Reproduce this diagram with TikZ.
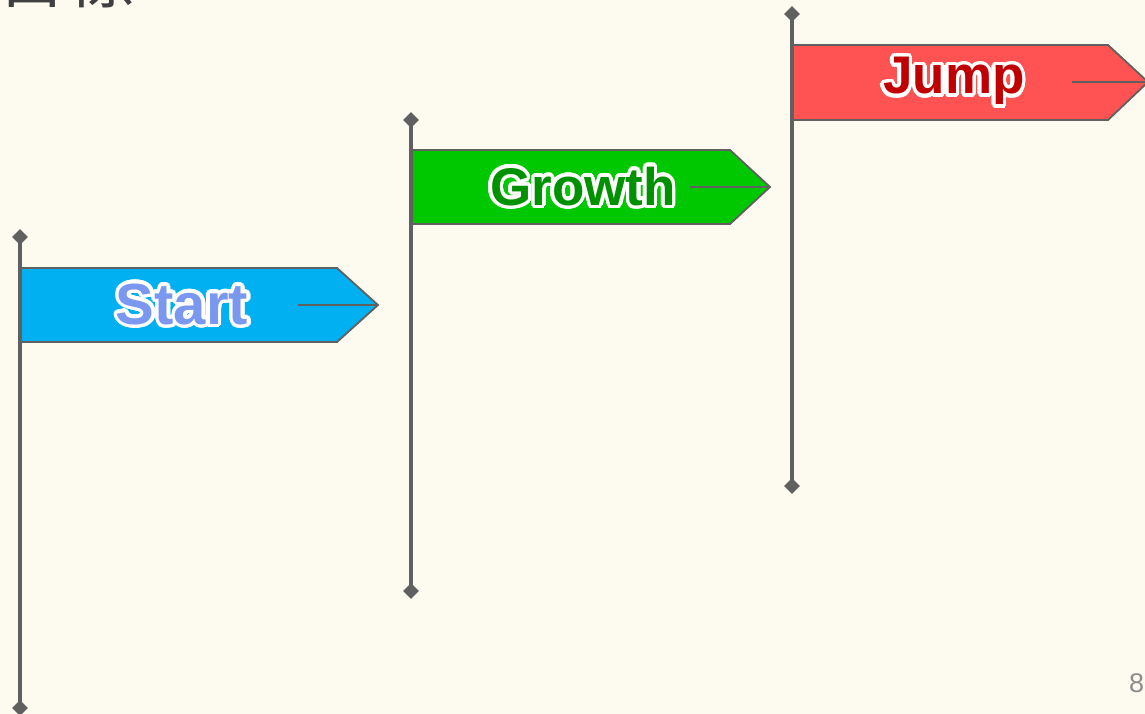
\documentclass[tikz,border=0pt]{standalone}
\usepackage{fontspec}
\setmainfont{Liberation Sans}
\newfontfamily\jpfont{Noto Sans CJK JP}
\usepackage{contour}
\usetikzlibrary{shapes.geometric,positioning}
\definecolor{paper}{RGB}{253,251,239}
\definecolor{polegray}{RGB}{96,96,96}
\definecolor{startfill}{RGB}{0,176,240}
\definecolor{starttext}{RGB}{122,152,240}
\definecolor{growthfill}{RGB}{0,200,0}
\definecolor{growthtext}{RGB}{0,145,0}
\definecolor{jumpfill}{RGB}{255,82,82}
\definecolor{jumptext}{RGB}{192,0,0}
\contourlength{3.5pt}
\contournumber{24}
\tikzset{
  pole/.style={line width=4pt,draw=polegray},
  knob/.style={diamond,fill=polegray,inner sep=0pt,minimum size=16pt},
  flag/.style={draw=polegray,line width=1.8pt,line join=miter},
  mark line/.style={draw=polegray,line width=1.8pt},
  label/.style={inner sep=0pt,font=\bfseries\fontsize{55}{60}\selectfont}
}
\begin{document}
\begin{tikzpicture}[x=1pt,y=-1pt]
\useasboundingbox (0,0) rectangle (1145,714);
\fill[paper] (0,0) rectangle (1145,714);
\clip (0,0) rectangle (1145,714);

\node (title) at (-2,3)[anchor=base west,inner sep=0pt,text=black!75,font=\jpfont\fontsize{68}{70}\selectfont] {目標};
\node (page) at (1129,692)[anchor=base west,inner sep=0pt,text=black!45,font=\fontsize{27}{30}\selectfont] {8};

% Start
\node (P1top) at (20,237)[knob] {};
\node (P1bot) at (20,708)[knob] {};
\coordinate (F1tip) at (378,305);
\coordinate (F1line) at (298,305);
\fill[startfill] (20,268) -- (337,268) -- (F1tip) -- (337,342) -- (20,342) -- cycle;
\draw[flag] (20,268) -- (337,268) -- (F1tip) -- (337,342) -- (20,342);
\draw[mark line] (F1line) -- (F1tip);
\draw[pole] (P1top.center) -- (P1bot.center);
\node (Start) at (182,306)[label,text=starttext,font=\bfseries\fontsize{58}{60}\selectfont] {\contour{white}{Start}};

% Growth
\node (P2top) at (411,120)[knob] {};
\node (P2bot) at (411,591)[knob] {};
\coordinate (F2tip) at (770,187);
\coordinate (F2line) at (690,187);
\fill[growthfill] (411,150) -- (730,150) -- (F2tip) -- (730,224) -- (411,224) -- cycle;
\draw[flag] (411,150) -- (730,150) -- (F2tip) -- (730,224) -- (411,224);
\draw[mark line] (F2line) -- (F2tip);
\draw[pole] (P2top.center) -- (P2bot.center);
\node (Growth) at (583,188)[label,text=growthtext,font=\bfseries\fontsize{53}{60}\selectfont] {\contour{white}{Growth}};

% Jump
\node (P3top) at (792,14)[knob] {};
\node (P3bot) at (792,486)[knob] {};
\coordinate (F3tip) at (1148,82);
\coordinate (F3line) at (1072,82);
\fill[jumpfill] (792,45) -- (1108,45) -- (F3tip) -- (1108,120) -- (792,120) -- cycle;
\draw[flag] (792,45) -- (1108,45) -- (F3tip) -- (1108,120) -- (792,120);
\draw[mark line] (F3line) -- (F3tip);
\draw[pole] (P3top.center) -- (P3bot.center);
\node (Jump) at (954,83)[label,text=jumptext,font=\bfseries\fontsize{53}{60}\selectfont] {\contour{white}{Jump}};
\end{tikzpicture}
\end{document}
